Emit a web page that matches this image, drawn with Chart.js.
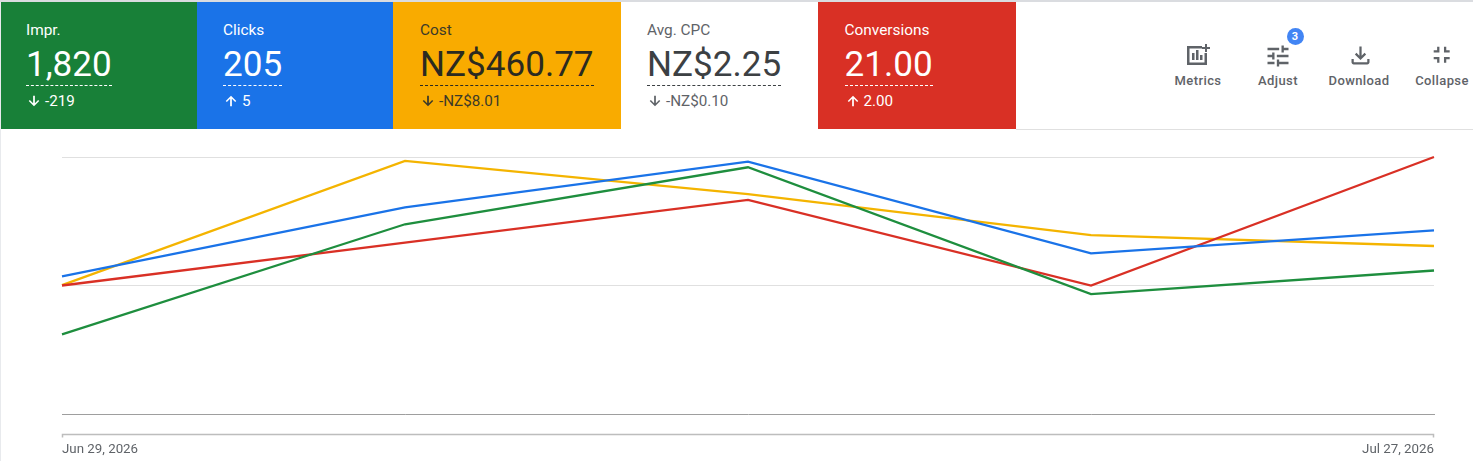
<!DOCTYPE html>
<html>
<head>
<meta charset="utf-8">
<script src="https://cdn.jsdelivr.net/npm/chart.js@4"></script>
<style>
html,body{margin:0;padding:0;background:#fff;width:1473px;height:461px;overflow:hidden;font-family:Roboto,sans-serif}
#top{position:absolute;left:0;top:0;width:1473px;height:2px;background:#dadce0}
#left{position:absolute;left:0;top:2px;width:1px;height:459px;background:#e8eaed}
#rule{position:absolute;left:1016px;top:129px;width:457px;height:1px;background:#e0e0e0}
.card{position:absolute;top:2px;height:127px;box-sizing:border-box}
.card .t{position:absolute;top:20px;font-size:15.4px;line-height:16px;white-space:nowrap;letter-spacing:0}
.card .v{position:absolute;top:41px;font-size:35.1px;line-height:42px;white-space:nowrap;border-bottom:1px dashed currentColor;height:42px}
.card .d{position:absolute;top:91px;font-size:15.2px;line-height:16px;white-space:nowrap}
.card svg{position:absolute;top:92px;width:14px;height:14px;fill:currentColor}
.tool{position:absolute;top:42px;width:80px;text-align:center;color:#5f6368;font-size:13px;font-weight:500}
.tool svg{display:block;position:absolute;fill:#5f6368}
.tool span{position:absolute;top:31px;left:0;width:80px;text-align:center;line-height:16px;letter-spacing:.4px}
#badge{position:absolute;left:1286.5px;top:28px;width:17px;height:17px;border-radius:50%;background:#4285f4;color:#fff;font-size:11px;font-weight:700;line-height:17px;text-align:center}
#wrap{position:absolute;left:0;top:130px;width:1473px;height:331px}
</style>
</head>
<body>
<div id="top"></div><div id="left"></div><div id="rule"></div>
<div id="cards"></div>
<div class="tool" style="left:1158px"><svg style="left:28px;top:1px" width="24" height="24" viewBox="0 0 24 24"><path d="M1 3h15v2.5H3.5v14h15V10H21v12H1z"/><path d="M6 10h2.5v7H6zM10 7h2.5v10H10zM14 12h2.5v5H14z"/><path d="M19 1h2v3h3v2h-3v3h-2V6h-3V4h3z"/></svg><span>Metrics</span></div>
<div class="tool" style="left:1238px"><svg style="left:25.5px;top:-.5px" width="28" height="28" viewBox="0 0 24 24"><path d="M3 17v2h6v-2H3zM3 5v2h10V5H3zm10 16v-2h8v-2h-8v-2h-2v6h2zM7 9v2H3v2h4v2h2V9H7zm14 4v-2H11v2h10zm-6-4h2V7h4V5h-4V3h-2v6z"/></svg><span>Adjust</span></div>
<div id="badge">3</div>
<div class="tool" style="left:1319px"><svg style="left:27.5px;top:-.5px" width="27" height="27" viewBox="0 0 24 24"><path d="M18 15v3H6v-3H4v3c0 1.1.9 2 2 2h12c1.1 0 2-.9 2-2v-3h-2zm-1-4l-1.41-1.41L13 12.17V4h-2v8.17L8.41 9.59 7 11l5 5 5-5z"/></svg><span>Download</span></div>
<div class="tool" style="left:1402px"><svg style="left:26.3px;top:-.7px" width="27.4" height="27.4" viewBox="0 0 24 24"><path d="M5 16h3v3h2v-5H5v2zm3-8H5v2h5V5H8v3zm6 11h2v-3h3v-2h-5v5zm2-11V5h-2v5h5V8h-3z"/></svg><span>Collapse</span></div>
<div id="wrap"><canvas id="c" width="1473" height="331"></canvas></div>
<script>
const categories = ["Jun 29, 2026","Jul 6, 2026","Jul 13, 2026","Jul 20, 2026","Jul 27, 2026"];
const impressions = [186,443,576,280,335];
const clicks = [30,45,55,35,40];
const cost = [62.6,122.9,106.8,86.9,81.57];
const conversions = [3,4,5,3,6];
const cardTitles = ["Impr.","Clicks","Cost","Avg. CPC","Conversions"];
const cardValues = ["1,820","205","NZ$460.77","NZ$2.25","21.00"];
const cardDeltas = ["-219","5","-NZ$8.01","-NZ$0.10","2.00"];
const cardDirs = ["down","up","down","down","up"];
const cardStyles = [
 {l:1,w:196,pad:25,bg:"#188038",fg:"#fff"},
 {l:197,w:196,pad:26,bg:"#1a73e8",fg:"#fff"},
 {l:393,w:228,pad:27,bg:"#f9ab00",fg:"#2b2a20",dc:"#3c3a28"},
 {l:621,w:197,pad:26,bg:"#fff",fg:"#3c4043",dc:"#5f6368"},
 {l:818,w:198,pad:26.5,bg:"#d93025",fg:"#fff"}
];
const upPath="M3 12l1.9 1.9L10.5 8.3V21h3V8.3l5.6 5.6L21 12l-9-9z";
const downPath="M21 12l-1.9-1.9-5.6 5.6V3h-3v12.7l-5.6-5.6L3 12l9 9z";
const host=document.getElementById("cards");
cardTitles.forEach((t,i)=>{
  const s=cardStyles[i];
  const pad=s.pad;
  const d=document.createElement("div");
  d.className="card";
  d.style.cssText=`left:${s.l}px;width:${s.w}px;background:${s.bg};color:${s.fg}`;
  d.innerHTML=`<div class="t" style="left:${pad}px;color:${s.dc||s.fg}">${t}</div><div class="v" style="left:${pad}px">${cardValues[i]}</div>`+
   `<svg viewBox="0 0 24 24" style="left:${pad+1}px;color:${s.dc||s.fg}"><path d="${cardDirs[i]==="up"?upPath:downPath}"/></svg>`+
   `<div class="d" style="left:${pad+19}px;color:${s.dc||s.fg}">${cardDeltas[i]}</div>`;
  host.appendChild(d);
});
const bracket={id:"bracket",afterDraw(ch){
  const x=ch.scales.x,c=ch.ctx,y=304.5;
  c.save();c.strokeStyle="#bdbdbd";c.lineWidth=1.5;c.beginPath();
  c.moveTo(x.left+.5,y+3);c.lineTo(x.left+.5,y);c.lineTo(x.right-.5,y);c.lineTo(x.right-.5,y+3);c.stroke();c.restore();
}};
const line=(label,data,color,axis)=>({label,data,borderColor:color,backgroundColor:color,borderWidth:2.3,pointRadius:0,tension:0,yAxisID:axis,clip:false});
const hidden=(max)=>({display:false,min:0,max});
new Chart(document.getElementById("c"),{
  type:"line",
  plugins:[bracket],
  data:{labels:categories,datasets:[
    line("Impr.",impressions,"#1e8e3e","yI"),
    line("Clicks",clicks,"#1a73e8","yC"),
    line("Conversions",conversions,"#d93025","yV"),
    line("Cost",cost,"#f4b400","yT")
  ]},
  options:{
    responsive:false,animation:false,
    layout:{padding:{left:62,right:39,top:27,bottom:0}},
    plugins:{legend:{display:false},tooltip:{enabled:false}},
    scales:{
      x:{offset:false,grid:{display:false},border:{color:"#9e9e9e",width:1},
        afterFit(s){s.height=47;},
        ticks:{autoSkip:false,maxRotation:0,align:"inner",padding:20,color:"#5f6368",font:{family:"Roboto",size:13.3},
          callback(v,i){return i===0||i===categories.length-1?categories[i]:"";}}},
      y:{display:true,min:0,max:2,position:"left",ticks:{display:false,stepSize:1},border:{display:false},
        grid:{color:(c)=>c.tick.value===0?"transparent":"#e0e0e0",drawTicks:false,lineWidth:1}},
      yI:hidden(600),yC:hidden(56),yV:hidden(6),yT:hidden(124.8)
    }
  }
});
</script>
</body>
</html>
